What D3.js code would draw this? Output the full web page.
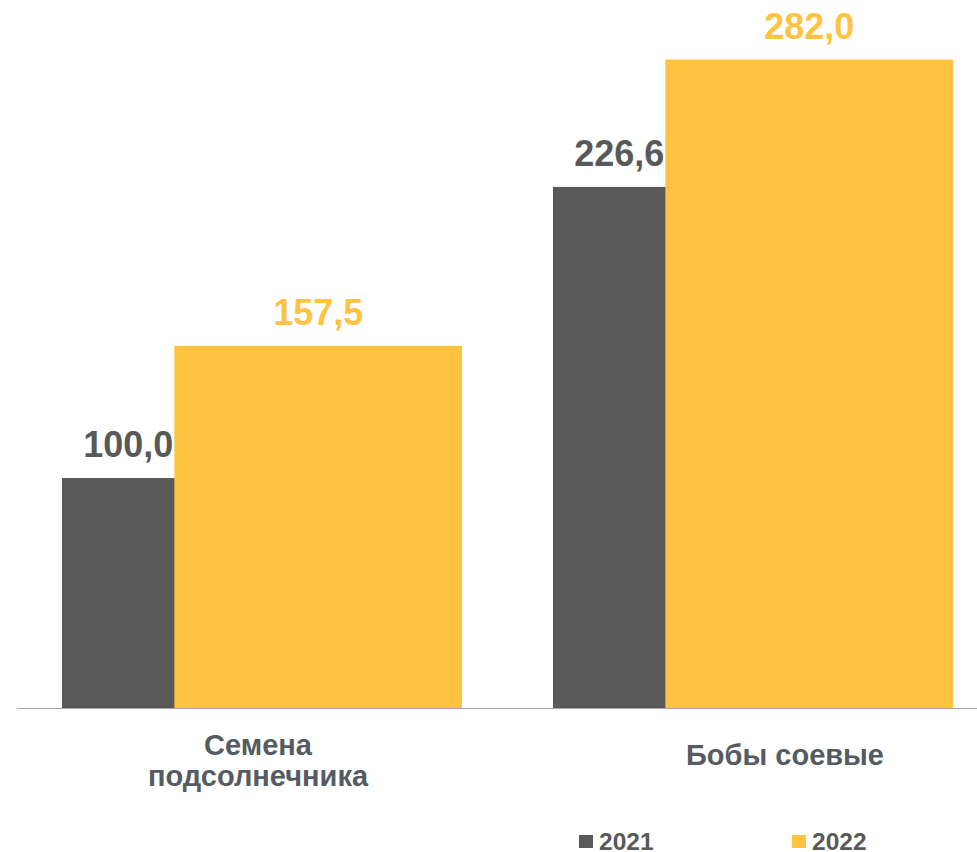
<!DOCTYPE html>
<html><head><meta charset="utf-8">
<script src="https://cdn.jsdelivr.net/npm/d3@7"></script>
<style>body{margin:0;background:#fff}svg{display:block}</style>
</head><body>
<svg id="c" width="977" height="852"></svg>
<script>
const categories = [["Семена", "подсолнечника"], ["Бобы соевые"]];
const seriesNames = ["2021", "2022"];
const values2021 = [100.0, 226.6];
const values2022 = [157.5, 282.0];
const valueLabels2021 = ["100,0", "226,6"];
const valueLabels2022 = ["157,5", "282,0"];

const colors = ["#595959", "#FFC33F"];
const svg = d3.select("#c");
const font = "'Liberation Sans', Arial, sans-serif";

const catKeys = categories.map(c => c.join(" "));
const x = d3.scaleBand().domain(catKeys).range([17, 998]).paddingInner(0.1853).paddingOuter(0.0916);
const y = d3.scaleLinear().domain([0, d3.max(values2022.concat(values2021))]).range([708, 59.5]);
const bw = x.bandwidth() * 288 / 400.5;

const series = [values2021, values2022];

series.forEach((vals, s) => {
  svg.append("g").selectAll("rect").data(vals).join("rect")
    .attr("x", (d, i) => s === 0 ? x(catKeys[i]) : x(catKeys[i]) + x.bandwidth() - bw)
    .attr("y", d => y(d))
    .attr("width", bw)
    .attr("height", d => y(0) - y(d))
    .attr("fill", colors[s]);
});

// value labels
svg.append("g").selectAll("text").data(values2021).join("text")
  .attr("x", (d, i) => x(catKeys[i]) + x.bandwidth() - bw - 1)
  .attr("y", d => y(d) - 21)
  .attr("text-anchor", "end")
  .attr("font-family", font).attr("font-weight", "bold").attr("font-size", 36)
  .attr("fill", colors[0])
  .text((d, i) => valueLabels2021[i]);
svg.append("g").selectAll("text").data(values2022).join("text")
  .attr("x", (d, i) => x(catKeys[i]) + x.bandwidth() - bw / 2)
  .attr("y", d => y(d) - 21)
  .attr("text-anchor", "middle")
  .attr("font-family", font).attr("font-weight", "bold").attr("font-size", 36)
  .attr("fill", colors[1])
  .text((d, i) => valueLabels2022[i]);

// axis line
svg.append("line").attr("x1", 17).attr("x2", 977).attr("y1", y(0) + 0.5).attr("y2", y(0) + 0.5)
  .attr("stroke", "#a6a6a6").attr("stroke-width", 1.2);

// category labels
const labelDx = [-4, 32];
categories.forEach((lines, i) => {
  const cx = x(catKeys[i]) + x.bandwidth() / 2 + labelDx[i];
  const t = svg.append("text").attr("text-anchor", "middle")
    .attr("font-family", font).attr("font-weight", "bold").attr("font-size", 29)
    .attr("fill", "#545b63");
  const y0 = lines.length === 1 ? 765 : 755;
  lines.forEach((l, k) => t.append("tspan").attr("x", cx).attr("y", y0 + k * 31).text(l));
});

// legend
const legX = [579, 792];
seriesNames.forEach((n, i) => {
  svg.append("rect").attr("x", legX[i]).attr("y", 835).attr("width", 14).attr("height", 13).attr("fill", colors[i]);
  svg.append("text").attr("x", legX[i] + 20).attr("y", 850)
    .attr("font-family", font).attr("font-weight", "bold").attr("font-size", 24.5)
    .attr("fill", "#595959").text(n);
});
</script>
</body></html>
